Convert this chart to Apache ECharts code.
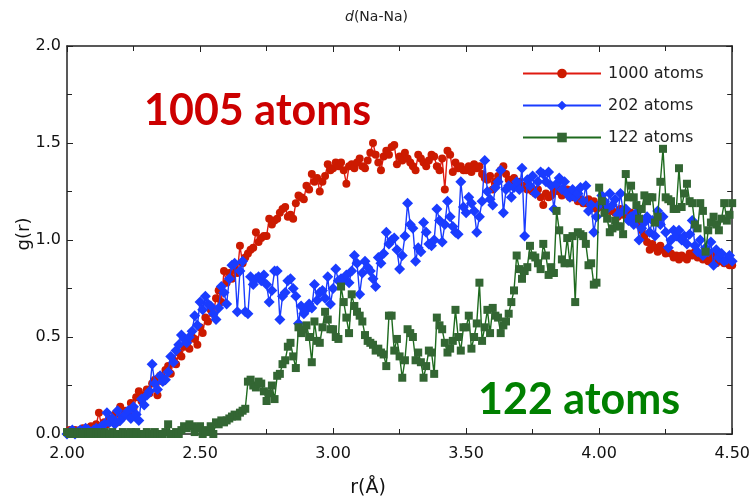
<!DOCTYPE html>
<html>
<head>
<meta charset="utf-8">
<script src="https://cdn.jsdelivr.net/npm/echarts@6/dist/echarts.min.js"></script>
<style>html,body{margin:0;padding:0;background:#fff}#c{width:753px;height:502px}</style>
</head>
<body>
<div id="c"></div>
<script>
// r grid (Å)
const r = [
2.00,2.01,2.02,2.03,2.04,2.05,2.06,2.07,2.08,2.09,
2.10,2.11,2.12,2.13,2.14,2.15,2.16,2.17,2.18,2.19,
2.20,2.21,2.22,2.23,2.24,2.25,2.26,2.27,2.28,2.29,
2.30,2.31,2.32,2.33,2.34,2.35,2.36,2.37,2.38,2.39,
2.40,2.41,2.42,2.43,2.44,2.45,2.46,2.47,2.48,2.49,
2.50,2.51,2.52,2.53,2.54,2.55,2.56,2.57,2.58,2.59,
2.60,2.61,2.62,2.63,2.64,2.65,2.66,2.67,2.68,2.69,
2.70,2.71,2.72,2.73,2.74,2.75,2.76,2.77,2.78,2.79,
2.80,2.81,2.82,2.83,2.84,2.85,2.86,2.87,2.88,2.89,
2.90,2.91,2.92,2.93,2.94,2.95,2.96,2.97,2.98,2.99,
3.00,3.01,3.02,3.03,3.04,3.05,3.06,3.07,3.08,3.09,
3.10,3.11,3.12,3.13,3.14,3.15,3.16,3.17,3.18,3.19,
3.20,3.21,3.22,3.23,3.24,3.25,3.26,3.27,3.28,3.29,
3.30,3.31,3.32,3.33,3.34,3.35,3.36,3.37,3.38,3.39,
3.40,3.41,3.42,3.43,3.44,3.45,3.46,3.47,3.48,3.49,
3.50,3.51,3.52,3.53,3.54,3.55,3.56,3.57,3.58,3.59,
3.60,3.61,3.62,3.63,3.64,3.65,3.66,3.67,3.68,3.69,
3.70,3.71,3.72,3.73,3.74,3.75,3.76,3.77,3.78,3.79,
3.80,3.81,3.82,3.83,3.84,3.85,3.86,3.87,3.88,3.89,
3.90,3.91,3.92,3.93,3.94,3.95,3.96,3.97,3.98,3.99,
4.00,4.01,4.02,4.03,4.04,4.05,4.06,4.07,4.08,4.09,
4.10,4.11,4.12,4.13,4.14,4.15,4.16,4.17,4.18,4.19,
4.20,4.21,4.22,4.23,4.24,4.25,4.26,4.27,4.28,4.29,
4.30,4.31,4.32,4.33,4.34,4.35,4.36,4.37,4.38,4.39,
4.40,4.41,4.42,4.43,4.44,4.45,4.46,4.47,4.48,4.49,
4.50];

// g(r), 1000 atoms
const g1000 = [
0.01,0.02,0.01,0.02,0.01,0.02,0.03,0.02,0.03,0.04,
0.03,0.05,0.11,0.04,0.06,0.05,0.08,0.07,0.10,0.06,
0.14,0.09,0.12,0.10,0.16,0.13,0.19,0.22,0.17,0.20,
0.23,0.21,0.26,0.28,0.20,0.30,0.27,0.33,0.35,0.31,
0.38,0.36,0.42,0.40,0.45,0.47,0.44,0.50,0.49,0.46,
0.55,0.52,0.60,0.58,0.64,0.62,0.70,0.74,0.68,0.84,
0.78,0.83,0.80,0.86,0.83,0.97,0.88,0.91,0.93,0.95,
0.96,1.04,0.99,1.01,1.02,1.02,1.11,1.08,1.10,1.11,
1.14,1.16,1.17,1.12,1.13,1.11,1.19,1.23,1.22,1.21,
1.28,1.26,1.34,1.30,1.32,1.25,1.30,1.33,1.39,1.36,
1.37,1.40,1.38,1.40,1.36,1.29,1.38,1.39,1.37,1.40,
1.42,1.38,1.37,1.41,1.45,1.50,1.44,1.40,1.36,1.43,
1.46,1.44,1.48,1.49,1.39,1.43,1.41,1.45,1.42,1.40,
1.38,1.36,1.44,1.42,1.40,1.38,1.41,1.44,1.43,1.38,
1.36,1.42,1.26,1.46,1.44,1.35,1.40,1.37,1.38,1.36,
1.36,1.38,1.35,1.39,1.37,1.38,1.34,1.32,1.31,1.33,
1.26,1.30,1.33,1.36,1.38,1.34,1.31,1.29,1.32,1.29,
1.30,1.27,1.28,1.26,1.27,1.25,1.24,1.26,1.22,1.18,
1.24,1.22,1.23,1.25,1.27,1.25,1.23,1.24,1.26,1.22,
1.22,1.24,1.20,1.21,1.19,1.19,1.21,1.17,1.20,1.16,
1.18,1.17,1.19,1.16,1.15,1.15,1.14,1.12,1.16,1.13,
1.13,1.12,1.14,1.11,1.11,1.08,1.05,1.02,0.99,0.95,
0.98,0.96,0.94,0.97,0.95,0.93,0.94,0.93,0.91,0.92,
0.90,0.92,0.91,0.90,0.93,0.92,0.94,0.91,0.92,0.90,
0.91,0.89,0.91,0.92,0.88,0.90,0.89,0.88,0.89,0.87,
0.87];

// g(r), 202 atoms
const g202 = [
0.00,0.01,0.02,0.00,0.01,0.02,0.01,0.03,0.02,0.01,
0.02,0.03,0.02,0.04,0.05,0.11,0.06,0.08,0.05,0.12,
0.07,0.09,0.10,0.12,0.08,0.14,0.10,0.07,0.18,0.15,
0.20,0.22,0.36,0.26,0.23,0.30,0.27,0.28,0.32,0.40,
0.37,0.43,0.46,0.51,0.49,0.47,0.50,0.53,0.61,0.56,
0.68,0.64,0.71,0.67,0.66,0.62,0.59,0.65,0.76,0.73,
0.67,0.80,0.87,0.88,0.63,0.84,0.89,0.63,0.62,0.81,
0.77,0.80,0.81,0.79,0.82,0.77,0.68,0.74,0.84,0.84,
0.59,0.71,0.73,0.79,0.80,0.75,0.71,0.57,0.66,0.62,
0.64,0.67,0.65,0.77,0.69,0.73,0.74,0.70,0.81,0.67,
0.75,0.85,0.79,0.80,0.79,0.82,0.78,0.84,0.92,0.88,
0.72,0.83,0.89,0.86,0.84,0.80,0.76,0.91,0.88,0.93,
1.04,0.98,1.00,1.01,0.95,0.85,0.92,1.02,1.19,1.08,
1.06,0.89,0.96,0.94,1.09,1.04,0.98,0.97,1.00,1.16,
1.10,0.99,1.08,1.20,1.12,1.07,1.04,1.03,1.30,1.17,
1.14,1.22,1.19,1.15,1.04,1.12,1.20,1.41,1.25,1.21,
1.18,1.27,1.30,1.36,1.14,1.26,1.28,1.22,1.27,1.30,
1.26,1.37,1.02,1.31,1.28,1.33,1.24,1.30,1.35,1.34,
1.30,1.35,1.28,1.16,1.29,1.32,1.26,1.30,1.24,1.22,
1.26,1.22,1.24,1.27,1.20,1.28,1.15,1.18,1.04,1.12,
1.18,1.23,1.20,1.16,1.24,1.18,1.21,1.13,1.24,1.15,
1.16,1.10,1.12,1.08,1.14,1.00,1.06,1.09,1.12,1.04,
1.10,1.02,1.15,1.08,1.12,1.04,0.96,1.00,1.05,1.02,
1.05,1.00,1.02,0.98,1.03,1.10,0.97,0.94,1.00,0.92,
0.96,0.94,0.99,0.87,0.95,0.91,0.93,0.89,0.90,0.92,
0.89];

// g(r), 122 atoms
const g122 = [
0.01,0.00,0.01,0.00,0.01,0.00,0.00,0.01,0.00,0.01,
0.00,0.01,0.00,0.00,0.01,0.00,0.00,0.01,0.00,0.00,
0.00,0.01,0.00,0.00,0.01,0.00,0.01,0.00,0.00,0.00,
0.01,0.00,0.00,0.01,0.00,0.00,0.00,0.01,0.05,0.00,
0.00,0.01,0.00,0.02,0.04,0.03,0.05,0.04,0.01,0.03,
0.04,0.00,0.02,0.01,0.04,0.00,0.06,0.05,0.07,0.06,
0.07,0.08,0.09,0.10,0.09,0.11,0.12,0.13,0.27,0.28,
0.25,0.24,0.27,0.26,0.22,0.17,0.21,0.25,0.18,0.30,
0.31,0.36,0.38,0.45,0.47,0.40,0.34,0.55,0.52,0.54,
0.56,0.50,0.37,0.58,0.48,0.47,0.55,0.63,0.59,0.54,
0.54,0.50,0.49,0.76,0.68,0.60,0.52,0.72,0.66,0.63,
0.61,0.58,0.51,0.48,0.47,0.46,0.43,0.44,0.42,0.41,
0.35,0.61,0.61,0.43,0.49,0.40,0.29,0.38,0.54,0.52,
0.50,0.38,0.42,0.37,0.29,0.35,0.43,0.42,0.31,0.60,
0.56,0.54,0.47,0.42,0.44,0.48,0.64,0.50,0.43,0.55,
0.55,0.61,0.44,0.50,0.57,0.78,0.48,0.55,0.64,0.52,
0.65,0.61,0.60,0.52,0.56,0.58,0.62,0.68,0.74,0.92,
0.85,0.80,0.84,0.86,0.97,0.92,0.91,0.88,0.85,0.98,
0.92,0.82,0.86,0.83,1.15,1.05,0.90,0.88,1.01,0.88,
1.02,0.68,1.04,1.03,1.02,0.98,0.87,0.88,0.77,0.78,
1.27,1.20,1.14,1.11,1.04,1.06,1.10,1.07,1.07,1.03,
1.34,1.22,1.28,1.22,1.18,1.11,1.16,1.23,1.20,1.22,
1.22,1.09,1.12,1.30,1.47,1.22,1.21,1.20,1.16,1.16,
1.37,1.17,1.24,1.29,1.20,1.19,1.08,1.06,1.19,1.15,
0.94,1.05,1.09,1.12,1.08,1.05,1.11,1.19,1.10,1.13,
1.19];

const seriesNames = ['1000 atoms', '202 atoms', '122 atoms'];
const xTicks = ['2.00', '2.50', '3.00', '3.50', '4.00', '4.50'];
const yTicks = ['0.0', '0.5', '1.0', '1.5', '2.0'];

const pair = (ys) => r.map((x, i) => [x, ys[i]]);

const chart = echarts.init(document.getElementById('c'), null, {renderer: 'canvas'});
const axisCol = '#222';
const labelFont = {fontFamily: 'DejaVu Sans', fontSize: 16, color: '#111'};

const baseX = {
  type: 'value', min: 2, max: 4.5, interval: 0.5,
  axisLine: {show: true, onZero: false, lineStyle: {color: axisCol, width: 1.5}},
  axisTick: {show: true, inside: true, length: 6, lineStyle: {color: axisCol}},
  minorTick: {show: true, splitNumber: 2, length: 5, lineStyle: {color: axisCol}},
  splitLine: {show: false}, minorSplitLine: {show: false}
};
const baseY = {
  type: 'value', min: 0, max: 2, interval: 0.5,
  axisLine: {show: true, onZero: false, lineStyle: {color: axisCol, width: 1.5}},
  axisTick: {show: true, inside: true, length: 6, lineStyle: {color: axisCol}},
  minorTick: {show: true, splitNumber: 2, length: 5, lineStyle: {color: axisCol}},
  splitLine: {show: false}, minorSplitLine: {show: false}
};

chart.setOption({
  animation: false,
  backgroundColor: '#fff',
  grid: {left: 67, right: 19, top: 46, bottom: 68},
  xAxis: [
    Object.assign({}, baseX, {position: 'bottom',
      axisLabel: Object.assign({}, labelFont, {margin: 12, formatter: (v) => xTicks[Math.round((v - 2) / 0.5)] ?? ''})}),
    Object.assign({}, baseX, {position: 'top', axisLabel: {show: false}})
  ],
  yAxis: [
    Object.assign({}, baseY, {position: 'left',
      axisLabel: Object.assign({}, labelFont, {margin: 6, formatter: (v) => yTicks[Math.round(v / 0.5)] ?? ''})}),
    Object.assign({}, baseY, {position: 'right', axisLabel: {show: false}})
  ],
  legend: {
    orient: 'vertical', left: 517, top: 59, itemGap: 13,
    itemWidth: 78, itemHeight: 12,
    textStyle: {fontFamily: 'DejaVu Sans', fontSize: 16, color: '#222', lineHeight: 19, padding: [0, 0, 0, 2]},
    data: seriesNames
  },
  series: [
    {name: seriesNames[0], type: 'line', data: pair(g1000), symbol: 'circle', symbolSize: 8,
     itemStyle: {color: '#cc1a00'}, lineStyle: {color: '#e01a10', width: 1.4}, z: 2},
    {name: seriesNames[1], type: 'line', data: pair(g202), symbol: 'diamond', symbolSize: 11,
     itemStyle: {color: '#1a3cff'}, lineStyle: {color: '#1a3cff', width: 1.4}, z: 3},
    {name: seriesNames[2], type: 'line', data: pair(g122), symbol: 'rect', symbolSize: 8,
     itemStyle: {color: '#336633'}, lineStyle: {color: '#1e6a1e', width: 1.4}, z: 4}
  ],
  graphic: [
    {type: 'text', left: 'center', top: 10, style: {
      text: '{i|d}(Na-Na)', fontFamily: 'DejaVu Sans', fontSize: 14, fill: '#222',
      rich: {i: {fontStyle: 'italic', fontFamily: 'DejaVu Sans', fontSize: 14, fill: '#222'}}}},
    {type: 'text', x: 368, y: 488, style: {text: 'r(Å)', fontFamily: 'DejaVu Sans', fontSize: 19,
      fill: '#111', align: 'center', verticalAlign: 'middle'}},
    {type: 'text', x: 24, y: 234, rotation: Math.PI / 2, style: {text: 'g(r)', fontFamily: 'DejaVu Sans',
      fontSize: 18, fill: '#111', align: 'center', verticalAlign: 'middle'}},
    {type: 'text', x: 144, y: 111, style: {text: '1005 atoms', fontFamily: 'Lato', fontWeight: 'bold',
      fontSize: 43, fill: '#cc0000', verticalAlign: 'middle'}, z: 10},
    {type: 'text', x: 478, y: 400, style: {text: '122 atoms', fontFamily: 'Lato', fontWeight: 'bold',
      fontSize: 43, fill: '#008000', verticalAlign: 'middle'}, z: 10}
  ]
});
</script>
</body>
</html>
